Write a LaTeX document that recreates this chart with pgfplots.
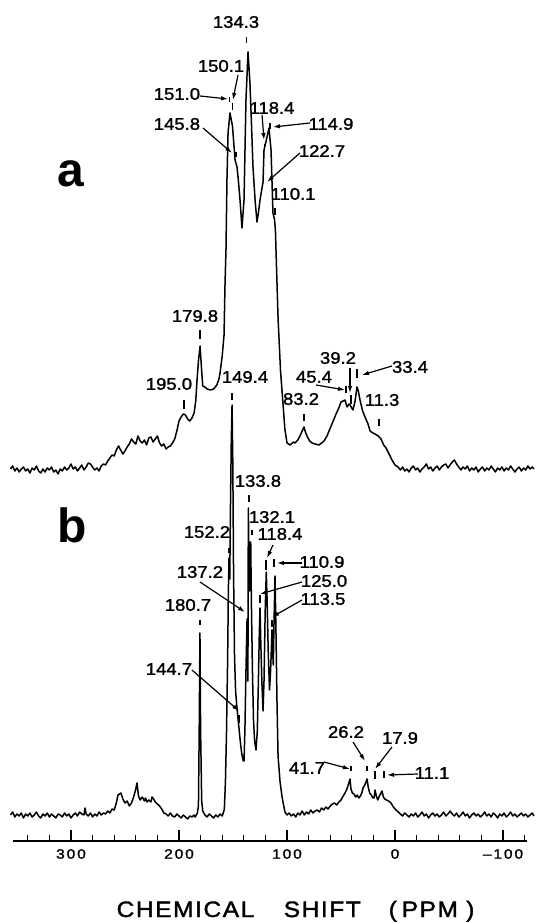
\documentclass[border=0pt]{standalone}
\usepackage{fontspec}
\setmainfont{Liberation Sans}
\newfontfamily\labfont[FakeStretch=1.1,FakeBold=1.6]{Liberation Sans}
\newfontfamily\tickfont[FakeStretch=1.15,FakeBold=1.6,LetterSpace=14]{Liberation Sans}
\newfontfamily\xlabfont[FakeStretch=1.1,FakeBold=1.6,LetterSpace=7]{Liberation Sans}
\usepackage{pgfplots}
\pgfplotsset{compat=1.18}
\usetikzlibrary{arrows.meta}
\newcommand\pl[3]{\node[inner sep=0pt,anchor=center] at (axis cs:#1,#2) {\labfont\fontsize{16.8}{17}\selectfont #3};}
\newcommand\tk[3]{\draw[line width=1.2pt] (axis cs:#1,#2) -- (axis cs:#1,#3);}
\newcommand\ar[4]{\draw[line width=1.2pt,-{Latex[length=7pt,width=4.5pt]}] (axis cs:#1,#2) -- (axis cs:#3,#4);}
\begin{document}
\begin{tikzpicture}
\begin{axis}[
  scale only axis, width=514pt, height=841pt,
  xmin=-122.2, xmax=353.7, ymin=0, ymax=841,
  x dir=reverse, enlargelimits=false, clip=false,
  axis x line=bottom, axis y line=none,
  axis line style={-, line width=1.5pt},
  xtick={-100,0,100,200,300},
  xticklabels={{–100},0,100,200,300},
  minor xtick={-120,-80,-60,-40,-20,20,40,60,80,120,140,160,180,220,240,260,280,320,340},
  tick align=inside, major tick length=11pt, minor tick length=6pt,
  every tick/.style={black, line width=1.2pt},
  xticklabel style={anchor=center, yshift=-13pt, inner sep=0pt, font=\tickfont\fontsize{13.5}{14}\selectfont},
]
% ---- spectrum a ----
\addplot[black, line width=1.5pt, line join=round] table {
356 372
354 375
352 370
350 373
348 369
346 372
344 374
342 370
340 372
338 368
336 373
334 371
332 375
330 370
328 368
326 372
324 369
322 373
320 371
318 374
316 369
314 371
312 367
310 372
308 370
306 374
304 371
302 373
300 377
298 372
296 374
294 370
292 373
290 376
288 371
286 374
284 378
282 377
280 374
278 371
276 373
274 370
272 375
270 377
268 376
266 380
264 383
262 386
260 385
258 391
256 395
254 391
252 387
250 390
248 394
246 397
244 402
242 399
240 397
238 405
236 400
234 398
232 401
230 396
228 403
226 404
224 399
222 402
220 405
218 398
216 395
214 397
212 392
210 394
208 395
206 398
204 402
202 410
200 420
198 424
196 427
194 426
192 422
190 420
188 423
186 428
184.5 440
183.3 461
182 480
180.5 495
179 470
178 455
176 454
174 452
171 451
168 452
165 456
163 462
162 468
160 485
158.3 506
157.4 557
156.5 591
155.6 661
154.6 708
152.8 728
150.5 715
148.1 681
146.3 674
145 660
143.5 641
141.7 613
139.8 641
138 741
136.1 789
134.3 758
133 720
131.5 674
129.5 640
127.8 619
126.5 628
125 641
122.2 659
121.3 691
118.5 704
116.7 713
114.8 691
113 628
111.5 621
110.7 610
110.2 591
108.3 523
106 470
103.7 437
102 412
100 398
97.2 396
94 399
92.6 398
90 401
88 405
86 410
84.3 414
83 409
81.5 405
79 400
76.9 398
74 397
70.4 396
68 398
65.7 400
63 405
61.1 410
58 418
54.6 427
52 433
50 439
48 440
46.3 441
44.4 434
42.5 437
41.7 436
40 433
38.9 431
37 440
35.2 454
34 450
32.4 441
30 430
27.8 424
25 417
23.1 410
20.5 408
18.5 407
15.5 405
13 402
10.5 396
8.3 393
5.5 387
2.8 381
0 376
-2.8 374
-5 371
-7 374
-9 370
-11 372
-13 369
-15 373
-17 375
-19 371
-21 373
-23 369
-25 372
-27 374
-29 377
-31 372
-33 374
-35 370
-37 373
-39 375
-41 371
-43 374
-45 376
-47 377
-49 373
-51 376
-53 379
-55 381
-57 377
-59 374
-61 371
-63 374
-65 372
-67 375
-69 370
-71 373
-73 371
-75 374
-77 369
-79 372
-81 374
-83 370
-85 373
-87 371
-89 375
-91 372
-93 369
-95 373
-97 371
-99 374
-101 370
-103 373
-105 371
-107 375
-109 372
-111 369
-113 372
-115 374
-117 370
-119 373
-121 371
-123 375
-125 372
-127 374
-128.7 372
};
% ---- spectrum b ----
\addplot[black, line width=1.5pt, line join=round] table {
356 26
354 29
352 24
350 27
348 25
346 28
344 23
342 27
340 25
338 28
336 24
334 26
332 29
330 25
328 23
326 27
324 25
322 28
320 24
318 27
316 25
314 23
312 27
310 26
308 24
306 28
304 25
302 27
300 23
298 26
296 28
294 25
292 29
290 27
288 26
287 33
286 27
284 25
282 28
280 24
278 27
276 25
274 29
272 26
270 28
268 27
266 30
264 28
262 32
260 31
258 38
256.5 46
255 47
253.7 48
252 42
250 38
248 40
246 35
244 38
242 44
240 52
238.9 58
237.5 45
236 41
234 44
232 40
231 43
229.5 39
228 41
226 39
225 44
223.5 42
222 39
220 37
218 35
216 32
214 28
212 27
210 25
208 28
206 25
204 24
202 27
200 25
198 23
196 26
194 24
192 22
190 25
188 24
186 26
185 24
183 28
182 35
181.3 110
180.6 208
180 110
179 40
178 30
176 26
174 24
172 27
170 25
168 23
166 26
164 24
162 27
160 25
159 28
158 32
157 60
156 110
155 180
154.3 250
153.7 283
153 262
152.4 330
151.6 400
150.9 436
150.2 380
149.5 270
148.6 185
147.6 150
146.5 135
145.5 124
144.4 112
143.3 100
142 88
140.5 80
139.8 80
139 110
138 170
137 222
136.5 180
136.2 160
135.8 333
135.2 280
134.6 250
133.6 299
133 240
132 170
131 120
130 100
128.7 91
127.5 110
126.5 160
125.6 210
125 233
124.3 200
123.3 160
122.2 130
121.3 160
120.2 230
119.2 269
118.4 240
117.4 190
116.2 151
115.2 170
114.4 195
113.9 211
113.3 190
112.7 176
112 220
111.1 265
110.3 215
109.3 141
108.3 85
106.5 60
104.6 44
103 35
101.9 29
100 26
98 28
96 25
94 27
92 24
90 28
88 26
86 30
84 26
82 29
80 27
78 31
76 28
74 30
72 31
70 29
68 33
66 31
64 34
62 32
60 35
58 37
56 38
54 36
52 39
50 41
48 45
46.3 48
44.5 52
43 57
41.7 62
40.8 52
39.5 48
38 47
36.5 44
35 46
33.5 43
32 45
30.5 49
29.6 53
28 56
26.9 59
25.9 62
24.8 54
23.5 48
22 46
20.5 43
19.4 43
18.5 51
17.3 45
16 41
14.5 45
13 48
12 50
10.8 44
9.5 42
8 41
6 40
3.7 38
1.5 34
-0.9 31
-3 29
-5 27
-7 25
-9 28
-11 26
-13 24
-15 27
-17 25
-19 28
-21 24
-23 26
-25 29
-27 25
-29 27
-31 23
-33 26
-35 28
-37 25
-39 27
-41 24
-43 26
-45 29
-47 25
-49 27
-51 30
-53 27
-55 25
-57 28
-59 24
-61 26
-63 29
-65 25
-67 27
-69 23
-71 26
-73 28
-75 25
-77 27
-79 24
-81 26
-83 29
-85 25
-87 27
-89 24
-91 28
-93 26
-95 23
-97 27
-99 25
-101 28
-103 24
-105 26
-107 29
-109 25
-111 27
-113 24
-115 26
-117 28
-119 25
-121 27
-123 24
-125 26
-127 28
-128.7 25
};
% ---- annotations a ----
\pl{147.2}{819}{134.3} \tk{137.3}{798}{804}
\pl{161.1}{775}{150.1} \ar{145.4}{766}{150.1}{741} \tk{150.3}{731}{738}
\pl{201.9}{747}{151.0} \ar{180.6}{745}{154.6}{742} \tk{153.4}{739}{744}
\pl{201.9}{717}{145.8} \ar{177.8}{713}{150.9}{688} \tk{147.2}{684}{689}
\pl{113.9}{733}{118.4} \ar{123.1}{726}{121.3}{701} \tk{120.5}{690}{697}
\pl{59.3}{717}{114.9} \ar{78.7}{718}{113}{714} \tk{115.7}{712}{718}
\pl{67.6}{690}{122.7} \ar{88}{688}{118.5}{659}
\pl{94.4}{647}{110.1} \tk{111.1}{626}{633}
\pl{185.2}{525}{179.8} \tk{180.6}{502}{511}
\pl{209.3}{457}{195.0} \tk{195.4}{432}{441}
\pl{87}{442}{83.2} \tk{84.3}{420}{427}
\pl{75}{464}{45.4} \ar{73.1}{456}{46.3}{451} \tk{45.4}{448}{455}
\pl{52.8}{483}{39.2} \ar{41.7}{473}{41.7}{448} \tk{40.7}{437}{446}
\pl{-13.9}{474}{33.4} \ar{2.8}{475}{30.6}{466} \tk{35.2}{463}{472}
\pl{12}{441}{11.3} \tk{14.8}{415}{422}
\pl{138.9}{464}{149.4} \tk{150.9}{441}{448}
% ---- annotations b ----
\pl{126.9}{360}{133.8} \tk{135.2}{339}{346}
\pl{113.9}{324}{132.1} \tk{132.4}{306}{311}
\pl{174.1}{309}{152.2} \tk{153.7}{288}{293}
\pl{106.5}{307}{118.4} \ar{113}{296}{118.5}{283} \tk{119.4}{271}{281}
\pl{67.6}{279}{110.9} \ar{86.1}{278}{109.3}{278} \tk{112}{274}{282}
\pl{65.7}{260}{125.0} \ar{86.1}{259}{125}{247} \tk{125}{238}{246}
\pl{66.7}{242}{113.5} \ar{86.1}{241}{113.9}{224} \tk{113.9}{214}{221}
\pl{180.6}{269}{137.2} \ar{180.6}{259}{138.9}{229}
\pl{191.7}{236}{180.7} \tk{180.6}{216}{221}
\pl{209.3}{172}{144.7} \ar{188}{171}{144.4}{130} \tk{144.4}{118}{126}
\pl{45.4}{109}{26.2} \ar{38.9}{99}{27.8}{80} \tk{25.9}{70}{75}
\pl{-4.6}{103}{17.9} \ar{2.8}{94}{18.5}{72} \tk{18.5}{62}{70}
\pl{81.5}{73}{41.7} \ar{65.7}{79}{41.7}{72} \tk{40.7}{70}{75}
\pl{-34.3}{68}{11.1} \ar{-21.3}{67}{7.4}{66} \tk{10.2}{63}{70}
% ---- panel letters ----
\node[inner sep=0pt, anchor=base west] at (axis cs:313,654) {\fontsize{48}{48}\selectfont\bfseries a};
\node[inner sep=0pt, anchor=base west] at (axis cs:313,298) {\fontsize{48}{48}\selectfont\bfseries b};
% ---- axis title ----
\node[inner sep=0pt, anchor=base west] at (axis cs:257.9,-76) {\xlabfont\fontsize{22.3}{23}\selectfont CHEMICAL};
\node[inner sep=0pt, anchor=base west] at (axis cs:103.2,-76) {\xlabfont\fontsize{22.3}{23}\selectfont SHIFT};
\node[inner sep=0pt, anchor=base west] at (axis cs:6.0,-76) {\xlabfont\fontsize{22.3}{23}\selectfont (};
\node[inner sep=0pt, anchor=base west] at (axis cs:-6.0,-76) {\xlabfont\fontsize{22.3}{23}\selectfont PPM};
\node[inner sep=0pt, anchor=base west] at (axis cs:-65.7,-76) {\xlabfont\fontsize{22.3}{23}\selectfont )};
\coordinate (BL) at (axis cs:365.74,-82);
\coordinate (TR) at (axis cs:-129.63,841);
\end{axis}
\pgfresetboundingbox
\path[use as bounding box] (BL) rectangle (TR);
\end{tikzpicture}
\end{document}
